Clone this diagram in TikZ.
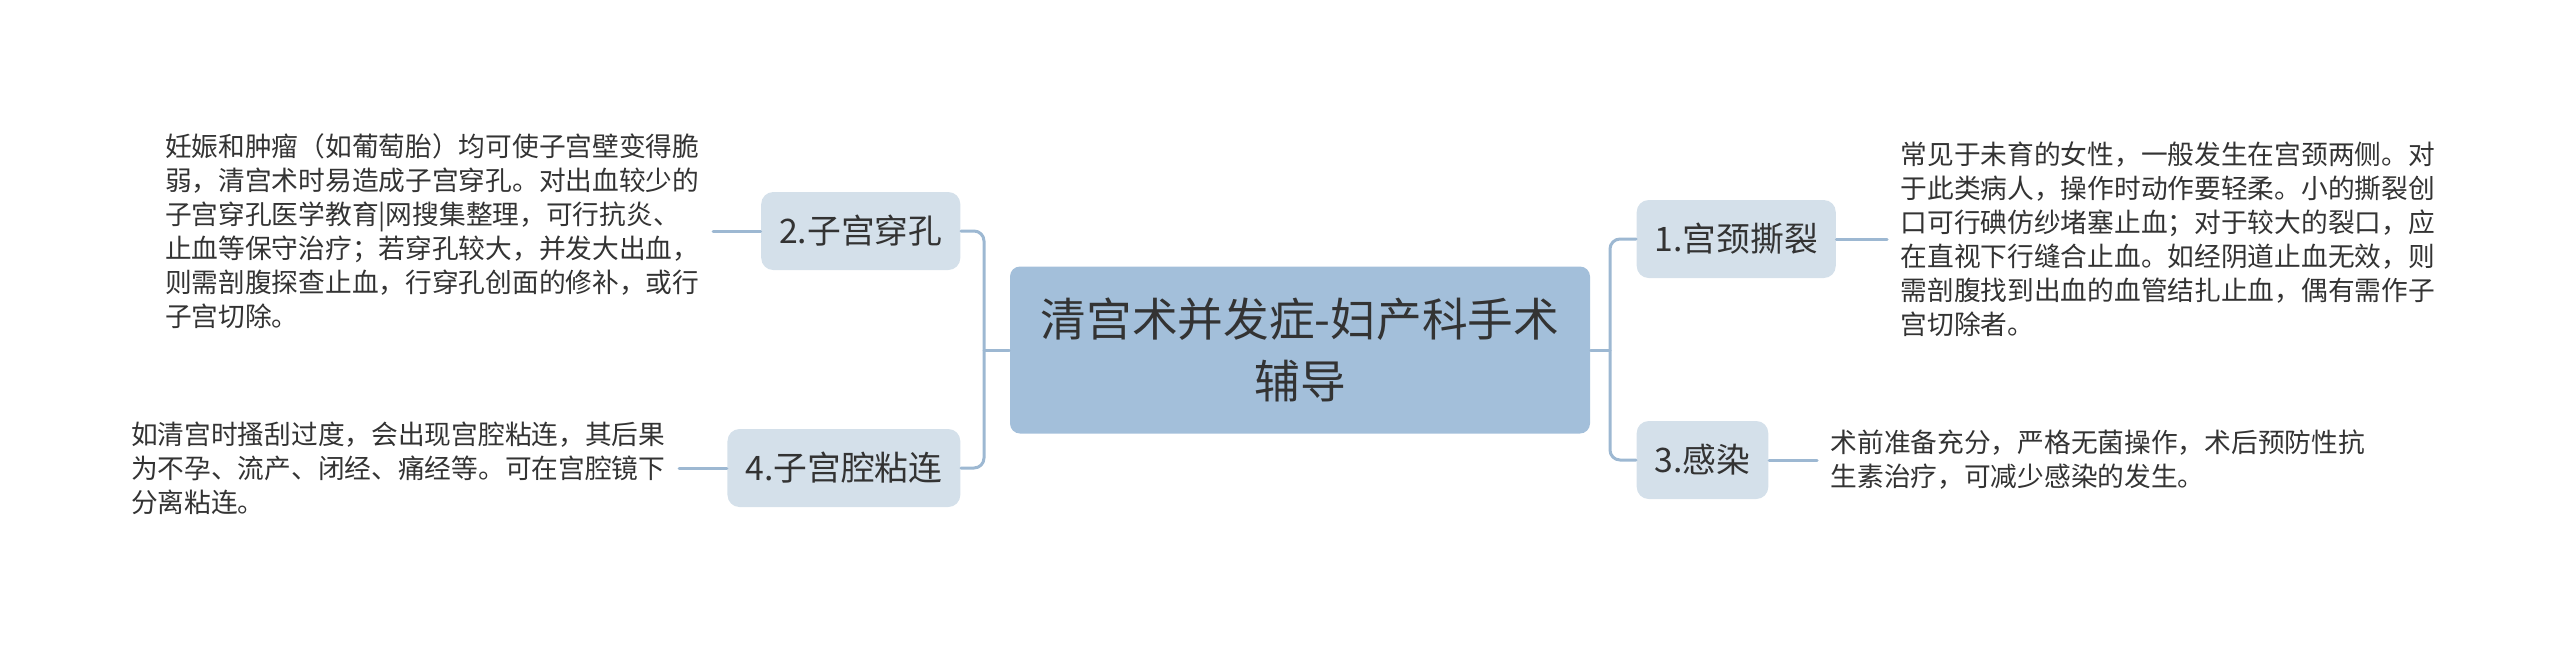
\documentclass[tikz,border=0pt]{standalone}
\usepackage{fontspec}
\setmainfont{Noto Sans CJK SC}
\usetikzlibrary{calc}
\definecolor{rootfill}{HTML}{A3BFDA}
\definecolor{subfill}{HTML}{D4E0EA}
\definecolor{linkc}{HTML}{9DB8D2}
\definecolor{txtc}{HTML}{333333}

\begin{document}
\begin{tikzpicture}[x=0.1mm, y=-0.1mm, line cap=round, line join=round,
	rootbox/.style={fill=rootfill, rounded corners=1mm, minimum width=58mm, minimum height=16.7mm,
		align=center, text=txtc, font={\fontsize{13}{17.6}\selectfont}},
	subbox/.style={fill=subfill, rounded corners=1.2mm, minimum height=7.8mm, inner xsep=1.8mm,
		text=txtc, font={\fontsize{9.6}{12}\selectfont}},
	leaf/.style={align=left, inner xsep=1.3mm, inner ysep=0.5mm, text=txtc,
		font={\fontsize{7.6}{9.7}\selectfont}},
	link/.style={draw=linkc, line width=0.3mm}]
	
	\useasboundingbox (0,0) rectangle (2560,648);
	
	% ===== centre =====
	\node[rootbox] (root) at (1300,350) {清宫术并发症-妇产科手术\\辅导};
	\coordinate (jl) at (984,350);
	\coordinate (jr) at (1610,350);
	
	% ===== left: 2 and 4 =====
	\node[subbox, anchor=east] (b2) at (961,231) {2.子宫穿孔};
	\node[subbox, anchor=east] (b4) at (961,468) {4.子宫腔粘连};
	
	\node[leaf, anchor=east] (t2) at (713,231) {妊娠和肿瘤（如葡萄胎）均可使子宫壁变得脆\\
		弱，清宫术时易造成子宫穿孔。对出血较少的\\
		子宫穿孔医学教育|网搜集整理，可行抗炎、\\
		止血等保守治疗；若穿孔较大，并发大出血，\\
		则需剖腹探查止血，行穿孔创面的修补，或行\\
		子宫切除。};
	\node[leaf, anchor=east] (t4) at (679,468) {如清宫时搔刮过度，会出现宫腔粘连，其后果\\
		为不孕、流产、闭经、痛经等。可在宫腔镜下\\
		分离粘连。};
	
	% ===== right: 1 and 3 =====
	\node[subbox, anchor=west] (b1) at (1636,239) {1.宫颈撕裂};
	\node[subbox, anchor=west] (b3) at (1636,460) {3.感染};
	
	\node[leaf, anchor=west] (t1) at (1887,239) {常见于未育的女性，一般发生在宫颈两侧。对\\
		于此类病人，操作时动作要轻柔。小的撕裂创\\
		口可行碘仿纱堵塞止血；对于较大的裂口，应\\
		在直视下行缝合止血。如经阴道止血无效，则\\
		需剖腹找到出血的血管结扎止血，偶有需作子\\
		宫切除者。};
	\node[leaf, anchor=west] (t3) at (1817,460) {术前准备充分，严格无菌操作，术后预防性抗\\
		生素治疗，可减少感染的发生。};
	
	% ===== links =====
	\draw[link] (root.west) -- (jl);
	\draw[link, rounded corners=1mm] (b2.east) -| (jl) |- (b4.east);
	\draw[link] (root.east) -- (jr);
	\draw[link, rounded corners=1mm] (b1.west) -| (jr) |- (b3.west);
	
	\draw[link] (b2.west) -- (t2.east);
	\draw[link] (b4.west) -- (t4.east);
	\draw[link] (b1.east) -- (t1.west);
	\draw[link] (b3.east) -- (t3.west);
	
\end{tikzpicture}
\end{document}
